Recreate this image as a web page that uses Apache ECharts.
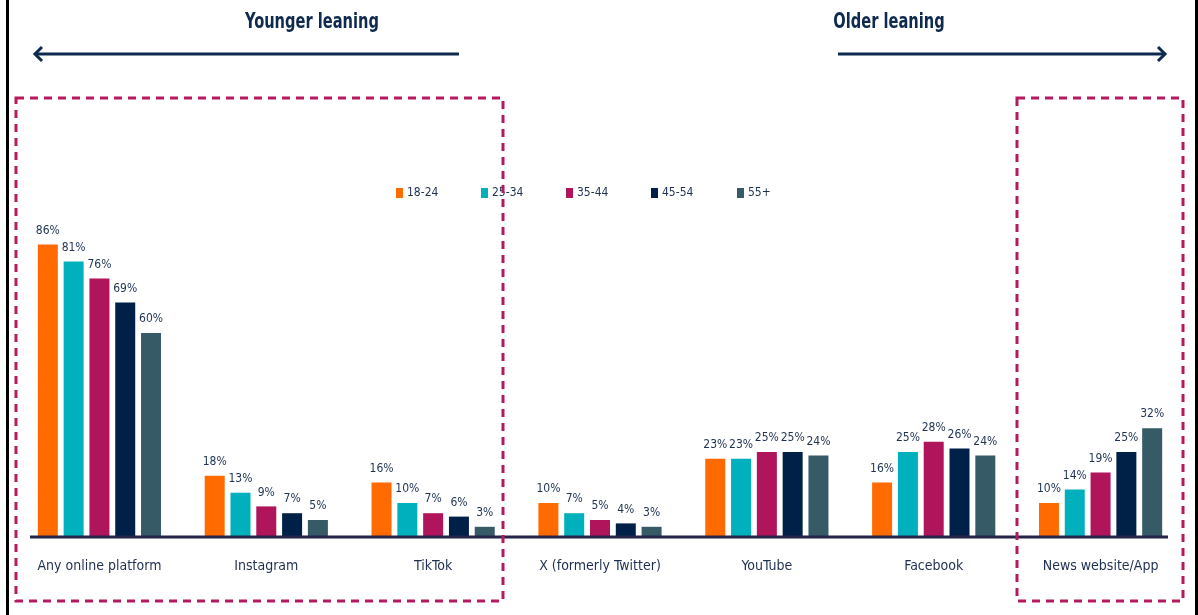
<!DOCTYPE html>
<html>
<head>
<meta charset="utf-8">
<script src="https://cdn.jsdelivr.net/npm/echarts@6/dist/echarts.min.js"></script>
<style>
html,body{margin:0;padding:0;background:#fff;}
#main{width:1198px;height:615px;}
</style>
</head>
<body>
<div id="main"></div>
<script>
const categories = ['Any online platform', 'Instagram', 'TikTok', 'X (formerly Twitter)', 'YouTube', 'Facebook', 'News website/App'];
const seriesNames = ['18-24', '25-34', '35-44', '45-54', '55+'];
const age18_24 = [86, 18, 16, 10, 23, 16, 10];
const age25_34 = [81, 13, 10, 7, 23, 25, 14];
const age35_44 = [76, 9, 7, 5, 25, 28, 19];
const age45_54 = [69, 7, 6, 4, 25, 26, 25];
const age55plus = [60, 5, 3, 3, 24, 24, 32];
const seriesData = [age18_24, age25_34, age35_44, age45_54, age55plus];
const colors = ['#FF6B00', '#00B0BD', '#B0145A', '#002147', '#365B66'];
const legendLeft = [396, 481, 566, 651, 737];

const FONT = '"Liberation Sans Narrow", "DejaVu Sans Condensed", "Roboto", sans-serif';
const NAVY = '#0e2a4f';
const PINK = '#B5195E';
const TEXT = '#1e3252';

const chart = echarts.init(document.getElementById('main'));

const series = seriesNames.map((name, i) => ({
  name: name,
  type: 'bar',
  data: seriesData[i],
  barWidth: 20,
  barGap: '29%',
  itemStyle: { color: colors[i] },
  label: {
    show: true,
    position: 'top',
    distance: 8,
    formatter: '{c}%',
    fontFamily: FONT,
    fontSize: 12,
    color: TEXT
  }
}));

const legends = seriesNames.map((name, i) => ({
  data: [name],
  left: legendLeft[i],
  top: 187,
  padding: 0,
  icon: 'rect',
  itemWidth: 7,
  itemHeight: 10,
  itemGap: 0,
  textStyle: { fontFamily: FONT, fontSize: 12, color: TEXT, padding: [0, 0, 0, -1] }
}));

chart.setOption({
  animation: false,
  backgroundColor: '#ffffff',
  color: colors,
  grid: { left: 16, right: 14, top: 197, bottom: 78, containLabel: false },
  legend: legends,
  xAxis: {
    type: 'category',
    data: categories,
    axisLine: { show: false },
    axisTick: { show: false },
    axisLabel: { interval: 0, fontFamily: FONT, fontSize: 14, color: '#1f2f4f', margin: 22 }
  },
  yAxis: {
    type: 'value',
    min: 0,
    max: 100,
    show: false,
    splitLine: { show: false }
  },
  series: series,
  graphic: [
    { type: 'rect', shape: { x: 6, y: 0, width: 3, height: 615 }, style: { fill: '#000' }, silent: true },
    { type: 'rect', shape: { x: 1195, y: 0, width: 3, height: 615 }, style: { fill: '#000' }, silent: true },
    { type: 'line', shape: { x1: 30, y1: 537, x2: 1168, y2: 537 }, style: { stroke: '#25254a', lineWidth: 3 }, z: 10 },
    { type: 'text', x: 312, y: 22, scaleX: 0.74, style: { x: 0, y: 0, text: 'Younger leaning', fontFamily: FONT, fontWeight: 'bold', fontSize: 22, fill: NAVY, align: 'center', verticalAlign: 'middle' } },
    { type: 'text', x: 889, y: 22, scaleX: 0.74, style: { x: 0, y: 0, text: 'Older leaning', fontFamily: FONT, fontWeight: 'bold', fontSize: 22, fill: NAVY, align: 'center', verticalAlign: 'middle' } },
    { type: 'line', shape: { x1: 36, y1: 54, x2: 459, y2: 54 }, style: { stroke: NAVY, lineWidth: 3 } },
    { type: 'polyline', shape: { points: [[42, 47], [35, 54], [42, 61]] }, style: { stroke: NAVY, lineWidth: 3, fill: null } },
    { type: 'line', shape: { x1: 838, y1: 54, x2: 1163, y2: 54 }, style: { stroke: NAVY, lineWidth: 3 } },
    { type: 'polyline', shape: { points: [[1158, 47], [1165, 54], [1158, 61]] }, style: { stroke: NAVY, lineWidth: 3, fill: null } },
    { type: 'rect', shape: { x: 16, y: 98, width: 487, height: 503 }, style: { stroke: PINK, lineWidth: 3, lineDash: [8, 6], fill: null }, z: 20 },
    { type: 'rect', shape: { x: 1017, y: 98, width: 166, height: 503 }, style: { stroke: PINK, lineWidth: 3, lineDash: [8, 6], fill: null }, z: 20 }
  ]
});
</script>
</body>
</html>
